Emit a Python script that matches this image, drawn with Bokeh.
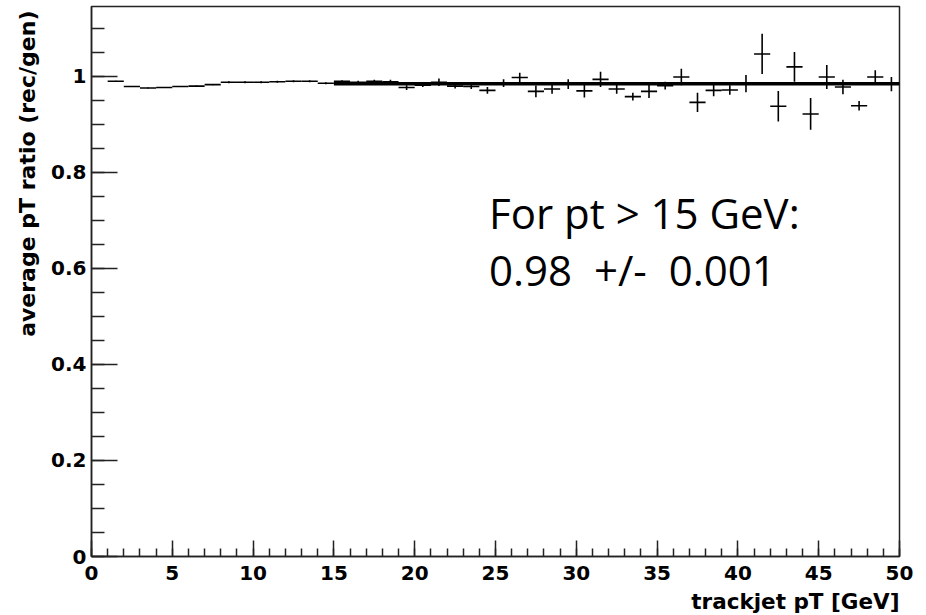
from bokeh.plotting import figure
from bokeh.models import (FixedTicker, CustomJSTickFormatter, Label, Range1d,
                          ColumnDataSource, Title)
from bokeh.embed import file_html
from bokeh.resources import INLINE

# ---- data ----
bin_low = list(range(1, 50))
bin_high = list(range(2, 51))
ratio = [0.990, 0.979, 0.976, 0.977, 0.979, 0.980, 0.983, 0.988, 0.988, 0.988,
         0.989, 0.990, 0.990, 0.986, 0.990, 0.988, 0.990, 0.989, 0.977, 0.982,
         0.988, 0.980, 0.979, 0.971, 0.986, 0.998, 0.969, 0.974, 0.984, 0.970,
         0.994, 0.974, 0.958, 0.969, 0.981, 0.999, 0.946, 0.971, 0.972, 0.985,
         1.047, 0.938, 1.020, 0.922, 0.999, 0.978, 0.939, 0.999, 0.984]
ratio_err = [0.001, 0.001, 0.001, 0.001, 0.001, 0.001, 0.001, 0.002, 0.002, 0.002,
             0.002, 0.002, 0.002, 0.002, 0.002, 0.003, 0.003, 0.004, 0.005, 0.004,
             0.008, 0.005, 0.005, 0.007, 0.008, 0.010, 0.012, 0.010, 0.010, 0.014,
             0.016, 0.010, 0.008, 0.014, 0.008, 0.017, 0.020, 0.012, 0.010, 0.018,
             0.042, 0.032, 0.031, 0.033, 0.025, 0.015, 0.010, 0.014, 0.015]
fit_range = [15, 50]
fit_value = 0.985

x_major = [0, 5, 10, 15, 20, 25, 30, 35, 40, 45, 50]
x_minor = list(range(0, 51))
y_major = [0, 0.2, 0.4, 0.6, 0.8, 1]
y_minor = [0, 0.05, 0.1, 0.15, 0.2, 0.25, 0.3, 0.35, 0.4, 0.45, 0.5, 0.55, 0.6,
           0.65, 0.7, 0.75, 0.8, 0.85, 0.9, 0.95, 1.0, 1.05, 1.1]

x_title = "trackjet pT [GeV]"
y_title = "average pT ratio (rec/gen)"
note_line1 = "For pt > 15 GeV:"
note_line2 = "0.98\u00a0 +/-\u00a0 0.001"

center = [(a + b) / 2 for a, b in zip(bin_low, bin_high)]
src = ColumnDataSource(dict(
    lo=bin_low, hi=bin_high, x=center, y=ratio,
    ylo=[r - e for r, e in zip(ratio, ratio_err)],
    yhi=[r + e for r, e in zip(ratio, ratio_err)],
))

p = figure(frame_width=808, frame_height=550,
           min_border_left=91, min_border_right=20,
           min_border_top=6, min_border_bottom=59,
           x_range=Range1d(0, 50), y_range=Range1d(0, 1.1458),
           output_backend="svg", toolbar_location=None)

p.background_fill_color = "white"
p.border_fill_color = "white"
p.outline_line_color = "#222222"
p.outline_line_width = 1.5
p.xgrid.visible = False
p.ygrid.visible = False

lab_font = "DejaVu Sans"
for ax in (p.xaxis[0], p.yaxis[0]):
    ax.axis_line_color = "#222222"
    ax.axis_line_width = 1.5
    ax.major_tick_line_color = "#222222"
    ax.minor_tick_line_color = "#222222"
    ax.major_tick_line_width = 1.5
    ax.minor_tick_line_width = 1.5
    ax.major_tick_out = 0
    ax.minor_tick_out = 0
    ax.major_label_text_font = lab_font
    ax.major_label_text_font_style = "bold"
    ax.major_label_text_font_size = "20px"
    ax.major_label_text_color = "black"
    ax.formatter = CustomJSTickFormatter(code="return String(tick);")

p.xaxis[0].ticker = FixedTicker(ticks=x_major, minor_ticks=x_minor)
p.yaxis[0].ticker = FixedTicker(ticks=y_major, minor_ticks=y_minor)
p.xaxis[0].major_tick_in = 16
p.xaxis[0].minor_tick_in = 8
p.yaxis[0].major_tick_in = 26
p.yaxis[0].minor_tick_in = 13
p.xaxis[0].major_label_standoff = 9
p.yaxis[0].major_label_standoff = 5

# histogram points with error bars
p.segment(x0="lo", x1="hi", y0="y", y1="y", source=src,
          line_color="black", line_width=1.6)
p.segment(x0="x", x1="x", y0="ylo", y1="yhi", source=src,
          line_color="black", line_width=1.6)

# fit line
p.line(x=fit_range, y=[fit_value, fit_value], line_color="black", line_width=3.5)

# axis titles (ROOT style: aligned to the axis end)
p.add_layout(Title(text=y_title, align="right", standoff=17, offset=4,
                   text_font=lab_font, text_font_style="bold",
                   text_font_size="22px", text_color="black"), "left")
p.add_layout(Title(text=x_title, align="right", standoff=9,
                   text_font=lab_font, text_font_style="bold",
                   text_font_size="21.5px", text_color="black"), "below")

# annotation
note_font = "Open Sans"
p.add_layout(Label(x=24.6, y=0.7165, text=note_line1,
                   text_align="left", text_baseline="alphabetic",
                   text_font=note_font, text_font_size="42px",
                   text_color="black"))
p.add_layout(Label(x=24.6, y=0.5975, text=note_line2,
                   text_align="left", text_baseline="alphabetic",
                   text_font=note_font, text_font_size="42px",
                   text_color="black"))

open("out.html", "w").write(file_html(p, INLINE))
